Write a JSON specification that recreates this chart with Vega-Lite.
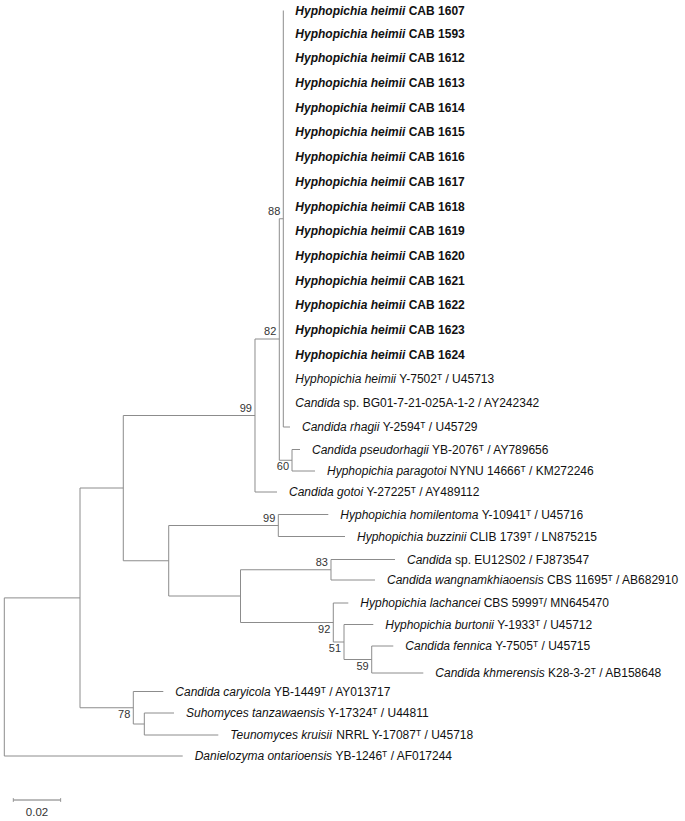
{
  "$schema": "https://vega.github.io/schema/vega-lite/v6.json",
  "width": 685,
  "height": 821,
  "autosize": {"type": "none"},
  "padding": 0,
  "background": "white",
  "view": {"stroke": null},
  "config": {"text": {"font": "Liberation Sans"}},
  "datasets": {
    "nodes": [
      {"id": "root", "parent": null, "x": 0, "y": 677},
      {"id": "A", "parent": "root", "x": 0.03198, "y": 597.9},
      {"id": "Dan", "parent": "root", "x": 0.07537, "y": 756, "taxon": "Danielozyma ontarioensis", "strain": "YB-1246ᵀ / AF017244", "source": "reference"},
      {"id": "B", "parent": "A", "x": 0.05027, "y": 488},
      {"id": "C", "parent": "A", "x": 0.0545, "y": 707.75, "support": 78},
      {"id": "car", "parent": "C", "x": 0.06717, "y": 691.5, "taxon": "Candida caryicola", "strain": "YB-1449ᵀ / AY013717", "source": "reference"},
      {"id": "C2", "parent": "C", "x": 0.05915, "y": 724},
      {"id": "tan", "parent": "C2", "x": 0.07169, "y": 713, "taxon": "Suhomyces tanzawaensis", "strain": "Y-17324ᵀ / U44811", "source": "reference"},
      {"id": "kru", "parent": "C2", "x": 0.09041, "y": 735, "taxon": "Teunomyces kruisii", "strain": "NRRL Y-17087ᵀ / U45718", "source": "reference"},
      {"id": "D", "parent": "B", "x": 0.10591, "y": 415.5, "support": 99},
      {"id": "E", "parent": "B", "x": 0.06946, "y": 560.75},
      {"id": "F", "parent": "D", "x": 0.11618, "y": 339, "support": 82},
      {"id": "got", "parent": "D", "x": 0.11521, "y": 492, "taxon": "Candida gotoi", "strain": "Y-27225ᵀ / AY489112", "source": "reference"},
      {"id": "G", "parent": "F", "x": 0.11787, "y": 218.75, "support": 88},
      {"id": "H", "parent": "F", "x": 0.12155, "y": 460.25, "support": 60},
      {"id": "c1607", "parent": "G", "x": 0.11787, "y": 10.5, "taxon": "Hyphopichia heimii", "strain": "CAB 1607", "source": "isolate"},
      {"id": "c1593", "parent": "G", "x": 0.11787, "y": 34, "taxon": "Hyphopichia heimii", "strain": "CAB 1593", "source": "isolate"},
      {"id": "c1612", "parent": "G", "x": 0.11787, "y": 58, "taxon": "Hyphopichia heimii", "strain": "CAB 1612", "source": "isolate"},
      {"id": "c1613", "parent": "G", "x": 0.11787, "y": 82.5, "taxon": "Hyphopichia heimii", "strain": "CAB 1613", "source": "isolate"},
      {"id": "c1614", "parent": "G", "x": 0.11787, "y": 107.5, "taxon": "Hyphopichia heimii", "strain": "CAB 1614", "source": "isolate"},
      {"id": "c1615", "parent": "G", "x": 0.11787, "y": 132, "taxon": "Hyphopichia heimii", "strain": "CAB 1615", "source": "isolate"},
      {"id": "c1616", "parent": "G", "x": 0.11787, "y": 157, "taxon": "Hyphopichia heimii", "strain": "CAB 1616", "source": "isolate"},
      {"id": "c1617", "parent": "G", "x": 0.11787, "y": 182, "taxon": "Hyphopichia heimii", "strain": "CAB 1617", "source": "isolate"},
      {"id": "c1618", "parent": "G", "x": 0.11787, "y": 206.5, "taxon": "Hyphopichia heimii", "strain": "CAB 1618", "source": "isolate"},
      {"id": "c1619", "parent": "G", "x": 0.11787, "y": 231, "taxon": "Hyphopichia heimii", "strain": "CAB 1619", "source": "isolate"},
      {"id": "c1620", "parent": "G", "x": 0.11787, "y": 255.5, "taxon": "Hyphopichia heimii", "strain": "CAB 1620", "source": "isolate"},
      {"id": "c1621", "parent": "G", "x": 0.11787, "y": 280.5, "taxon": "Hyphopichia heimii", "strain": "CAB 1621", "source": "isolate"},
      {"id": "c1622", "parent": "G", "x": 0.11787, "y": 305, "taxon": "Hyphopichia heimii", "strain": "CAB 1622", "source": "isolate"},
      {"id": "c1623", "parent": "G", "x": 0.11787, "y": 330, "taxon": "Hyphopichia heimii", "strain": "CAB 1623", "source": "isolate"},
      {"id": "c1624", "parent": "G", "x": 0.11787, "y": 354.5, "taxon": "Hyphopichia heimii", "strain": "CAB 1624", "source": "isolate"},
      {"id": "Y7502", "parent": "G", "x": 0.11787, "y": 379, "taxon": "Hyphopichia heimii", "strain": "Y-7502ᵀ / U45713", "source": "reference"},
      {"id": "BG01", "parent": "G", "x": 0.11787, "y": 403, "taxon": "Candida", "strain": "sp. BG01-7-21-025A-1-2 / AY242342", "source": "reference"},
      {"id": "rha", "parent": "G", "x": 0.1207, "y": 427, "taxon": "Candida rhagii", "strain": "Y-2594ᵀ / U45729", "source": "reference"},
      {"id": "pse", "parent": "H", "x": 0.12493, "y": 449.5, "taxon": "Candida pseudorhagii", "strain": "YB-2076ᵀ / AY789656", "source": "reference"},
      {"id": "par", "parent": "H", "x": 0.13127, "y": 471, "taxon": "Hyphopichia paragotoi", "strain": "NYNU 14666ᵀ / KM272246", "source": "reference"},
      {"id": "I", "parent": "E", "x": 0.11576, "y": 525.5, "support": 99},
      {"id": "hom", "parent": "I", "x": 0.13688, "y": 514.5, "taxon": "Hyphopichia homilentoma", "strain": "Y-10941ᵀ / U45716", "source": "reference"},
      {"id": "buz", "parent": "I", "x": 0.14394, "y": 536.5, "taxon": "Hyphopichia buzzinii", "strain": "CLIB 1739ᵀ / LN875215", "source": "reference"},
      {"id": "J", "parent": "E", "x": 0.09979, "y": 596},
      {"id": "K", "parent": "J", "x": 0.13802, "y": 569.75, "support": 83},
      {"id": "EU", "parent": "K", "x": 0.16506, "y": 559.5, "taxon": "Candida", "strain": "sp. EU12S02 / FJ873547", "source": "reference"},
      {"id": "wan", "parent": "K", "x": 0.15661, "y": 580, "taxon": "Candida wangnamkhiaoensis", "strain": "CBS 11695ᵀ / AB682910", "source": "reference"},
      {"id": "L", "parent": "J", "x": 0.13899, "y": 622.5, "support": 92},
      {"id": "lac", "parent": "L", "x": 0.14533, "y": 603, "taxon": "Hyphopichia lachancei", "strain": "CBS 5999ᵀ/ MN645470", "source": "reference"},
      {"id": "M", "parent": "L", "x": 0.14352, "y": 642, "support": 51},
      {"id": "bur", "parent": "M", "x": 0.15589, "y": 624.5, "taxon": "Hyphopichia burtonii", "strain": "Y-1933ᵀ / U45712", "source": "reference"},
      {"id": "N", "parent": "M", "x": 0.15522, "y": 659.5, "support": 59},
      {"id": "fen", "parent": "N", "x": 0.16434, "y": 646, "taxon": "Candida fennica", "strain": "Y-7505ᵀ / U45715", "source": "reference"},
      {"id": "khm", "parent": "N", "x": 0.17702, "y": 673, "taxon": "Candida khmerensis", "strain": "K28-3-2ᵀ / AB158648", "source": "reference"}
    ],
    "scalebar": [
      {"x": 0.0038, "y": 800, "label": "0.02"},
      {"x": 0.0238, "y": 800, "label": "0.02"}
    ]
  },
  "layer": [
    {
      "data": {"name": "nodes"},
      "transform": [
        {"filter": "datum.parent != null"},
        {"lookup": "parent", "from": {"data": {"name": "nodes"}, "key": "id", "fields": ["x"]}, "as": ["px"]}
      ],
      "mark": {"type": "rule", "color": "#8c8c8c", "strokeWidth": 1},
      "encoding": {
        "x": {"field": "px", "type": "quantitative", "scale": {"domain": [-0.00182, 0.28758], "nice": false, "zero": false}, "axis": null},
        "x2": {"field": "x"},
        "y": {"field": "y", "type": "quantitative", "scale": {"domain": [0, 821], "reverse": true, "nice": false, "zero": false}, "axis": null}
      }
    },
    {
      "data": {"name": "nodes"},
      "transform": [
        {"filter": "datum.parent != null"},
        {"aggregate": [{"op": "min", "field": "y", "as": "y1"}, {"op": "max", "field": "y", "as": "y2"}], "groupby": ["parent"]},
        {"lookup": "parent", "from": {"data": {"name": "nodes"}, "key": "id", "fields": ["x"]}, "as": ["nx"]}
      ],
      "mark": {"type": "rule", "color": "#8c8c8c", "strokeWidth": 1},
      "encoding": {
        "x": {"field": "nx", "type": "quantitative", "axis": null},
        "y": {"field": "y1", "type": "quantitative", "axis": null},
        "y2": {"field": "y2"}
      }
    },
    {
      "data": {"name": "nodes"},
      "transform": [{"filter": {"field": "id", "oneOf": ["G", "F", "D", "I", "K"]}}],
      "mark": {"type": "text", "align": "right", "baseline": "middle", "dx": -3, "dy": -7, "fontSize": 11, "color": "#333333"},
      "encoding": {
        "x": {"field": "x", "type": "quantitative", "axis": null},
        "y": {"field": "y", "type": "quantitative", "axis": null},
        "text": {"field": "support", "type": "nominal"}
      }
    },
    {
      "data": {"name": "nodes"},
      "transform": [{"filter": {"field": "id", "oneOf": ["H", "L", "M", "N", "C"]}}],
      "mark": {"type": "text", "align": "right", "baseline": "middle", "dx": -3, "dy": 7, "fontSize": 11, "color": "#333333"},
      "encoding": {
        "x": {"field": "x", "type": "quantitative", "axis": null},
        "y": {"field": "y", "type": "quantitative", "axis": null},
        "text": {"field": "support", "type": "nominal"}
      }
    },
    {
      "data": {"name": "nodes"},
      "transform": [{"filter": "datum.source == 'reference'"}],
      "mark": {"type": "text", "align": "left", "baseline": "middle", "dx": 12, "fontSize": 12, "fontStyle": "italic", "color": "#111111"},
      "encoding": {
        "x": {"field": "x", "type": "quantitative", "axis": null},
        "y": {"field": "y", "type": "quantitative", "axis": null},
        "text": {"field": "taxon", "type": "nominal"}
      }
    },
    {
      "data": {"name": "nodes"},
      "transform": [{"filter": "datum.source == 'reference'"}],
      "mark": {
        "type": "text", "align": "left", "baseline": "middle", "fontSize": 12, "color": "#111111",
        "dx": {"expr": "12 + 0.012*(278 + 556*length(datum.taxon) - 334*(length(datum.taxon)-length(replace(datum.taxon,/[ijl]/g,''))) - 278*(length(datum.taxon)-length(replace(datum.taxon,/[tf ]/g,''))) - 223*(length(datum.taxon)-length(replace(datum.taxon,/r/g,''))) - 56*(length(datum.taxon)-length(replace(datum.taxon,/[cksyzvx]/g,''))) + 277*(length(datum.taxon)-length(replace(datum.taxon,/m/g,''))) + 166*(length(datum.taxon)-length(replace(datum.taxon,/[wHCD]/g,''))) + 111*(length(datum.taxon)-length(replace(datum.taxon,/S/g,''))) + 55*(length(datum.taxon)-length(replace(datum.taxon,/T/g,''))))"}
      },
      "encoding": {
        "x": {"field": "x", "type": "quantitative", "axis": null},
        "y": {"field": "y", "type": "quantitative", "axis": null},
        "text": {"field": "strain", "type": "nominal"}
      }
    },
    {
      "data": {"name": "nodes"},
      "transform": [{"filter": "datum.source == 'isolate'"}],
      "mark": {"type": "text", "align": "left", "baseline": "middle", "dx": 12, "fontSize": 12, "fontStyle": "italic", "fontWeight": "bold", "color": "#111111"},
      "encoding": {
        "x": {"field": "x", "type": "quantitative", "axis": null},
        "y": {"field": "y", "type": "quantitative", "axis": null},
        "text": {"field": "taxon", "type": "nominal"}
      }
    },
    {
      "data": {"name": "nodes"},
      "transform": [{"filter": "datum.source == 'isolate'"}],
      "mark": {"type": "text", "align": "left", "baseline": "middle", "dx": 125.4, "fontSize": 12, "fontWeight": "bold", "color": "#111111"},
      "encoding": {
        "x": {"field": "x", "type": "quantitative", "axis": null},
        "y": {"field": "y", "type": "quantitative", "axis": null},
        "text": {"field": "strain", "type": "nominal"}
      }
    },
    {
      "data": {"name": "scalebar"},
      "mark": {"type": "line", "color": "#777777", "strokeWidth": 1},
      "encoding": {
        "x": {"field": "x", "type": "quantitative", "axis": null},
        "y": {"field": "y", "type": "quantitative", "axis": null}
      }
    },
    {
      "data": {"name": "scalebar"},
      "mark": {"type": "tick", "color": "#777777", "thickness": 1, "size": 4, "orient": "vertical"},
      "encoding": {
        "x": {"field": "x", "type": "quantitative", "axis": null},
        "y": {"field": "y", "type": "quantitative", "axis": null}
      }
    },
    {
      "data": {"name": "scalebar"},
      "transform": [{"aggregate": [{"op": "mean", "field": "x", "as": "mx"}, {"op": "max", "field": "y", "as": "my"}], "groupby": ["label"]}],
      "mark": {"type": "text", "align": "center", "baseline": "middle", "dy": 13, "fontSize": 11.5, "color": "#333333"},
      "encoding": {
        "x": {"field": "mx", "type": "quantitative", "axis": null},
        "y": {"field": "my", "type": "quantitative", "axis": null},
        "text": {"field": "label", "type": "nominal"}
      }
    }
  ]
}
